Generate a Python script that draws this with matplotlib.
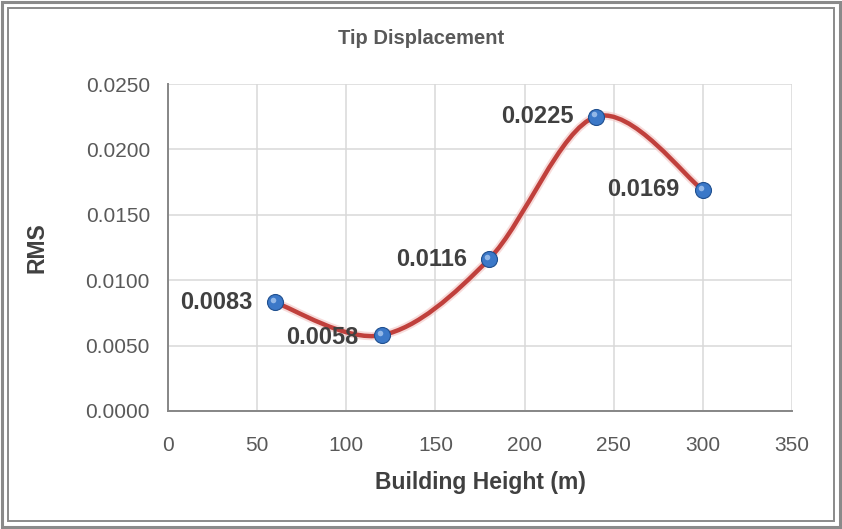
import matplotlib
matplotlib.use("Agg")
import matplotlib.pyplot as plt
from matplotlib.path import Path
from matplotlib.patches import PathPatch, Rectangle
from matplotlib import font_manager as fm

heights = [60, 120, 180, 240, 300]
rms = [0.0083, 0.0058, 0.0116, 0.0225, 0.0169]
labels = ["0.0083", "0.0058", "0.0116", "0.0225", "0.0169"]

installed = {f.name for f in fm.fontManager.ttflist}
family = [f for f in ["Liberation Sans Narrow", "Liberation Sans", "DejaVu Sans"] if f in installed]
plt.rcParams["font.family"] = family

fig = plt.figure(figsize=(8.42, 5.29), dpi=100)
ax = fig.add_axes([168 / 842, 1 - 411 / 529, (792 - 168) / 842, (411 - 84) / 529])

# double frame around the chart
fig.patches.append(Rectangle((2 / 842, 2 / 529), 1 - 4 / 842, 1 - 4 / 529, transform=fig.transFigure,
                             fill=False, edgecolor="#8a8a8a", linewidth=2.2))
fig.patches.append(Rectangle((8 / 842, 8 / 529), 1 - 16 / 842, 1 - 16 / 529, transform=fig.transFigure,
                             fill=False, edgecolor="#8a8a8a", linewidth=1.4))

ax.set_xlim(0, 350)
ax.set_ylim(0, 0.025)
ax.set_xticks(range(0, 351, 50))
ax.set_yticks([i * 0.005 for i in range(6)])
ax.set_yticklabels([f"{i * 0.005:.4f}" for i in range(6)])
ax.grid(True, color="#d9d9d9", linewidth=1.1)
ax.set_axisbelow(True)
for s in ["top", "right"]:
    ax.spines[s].set_visible(False)
for s in ["left", "bottom"]:
    ax.spines[s].set_color("#868686")
    ax.spines[s].set_linewidth(1.4)
ax.tick_params(length=0, labelsize=15, colors="#595959")
ax.tick_params(axis="y", pad=13)
ax.tick_params(axis="x", pad=18)

# smoothed connecting line (cubic Bezier segments through the data points)
pts = list(zip(heights, rms))
verts = [pts[0]]
codes = [Path.MOVETO]
n = len(pts)
for i in range(n - 1):
    p0 = pts[max(i - 1, 0)]
    p1 = pts[i]
    p2 = pts[i + 1]
    p3 = pts[min(i + 2, n - 1)]
    c1 = (p1[0] + (p2[0] - p0[0]) / 6, p1[1] + (p2[1] - p0[1]) / 6)
    c2 = (p2[0] - (p3[0] - p1[0]) / 6, p2[1] - (p3[1] - p1[1]) / 6)
    verts += [c1, c2, p2]
    codes += [Path.CURVE4] * 3
path = Path(verts, codes)
ax.add_patch(PathPatch(path, fill=False, edgecolor="#f2c4c2", linewidth=6, alpha=0.6, zorder=2))
ax.add_patch(PathPatch(path, fill=False, edgecolor="#c0403c", linewidth=3.2, zorder=3))

ax.plot(heights, rms, linestyle="none", marker="o", markersize=11.5, markerfacecolor="#3b78c8",
        markeredgecolor="#1f4f8f", markeredgewidth=0.8, zorder=4)
ax.plot([h - 1.3 for h in heights], [r + 0.00018 for r in rms], linestyle="none", marker="o",
        markersize=4, markerfacecolor="#a9c8ef", markeredgewidth=0, alpha=0.8, zorder=5)

offsets = [(-16, 0), (-17, -1.5), (-16, 0), (-16, 0), (-17, 0)]
for x, y, t, (dx, dy) in zip(heights, rms, labels, offsets):
    ax.annotate(t, (x, y), xytext=(dx, dy), textcoords="offset points", ha="right", va="center",
                fontsize=17, fontweight="bold", color="#404040", zorder=6)

fig.text(421 / 842, 1 - 38 / 529, "Tip Displacement", ha="center", va="center", fontsize=14.5,
         fontweight="bold", color="#595959")
fig.text(480 / 842, 1 - 482 / 529, "Building Height (m)", ha="center", va="center", fontsize=16.5,
         fontweight="bold", color="#404040")
fig.text(37 / 842, 1 - 248 / 529, "RMS", ha="center", va="center", rotation=90, fontsize=16.5,
         fontweight="bold", color="#404040")

fig.savefig("out.png", dpi=100)
